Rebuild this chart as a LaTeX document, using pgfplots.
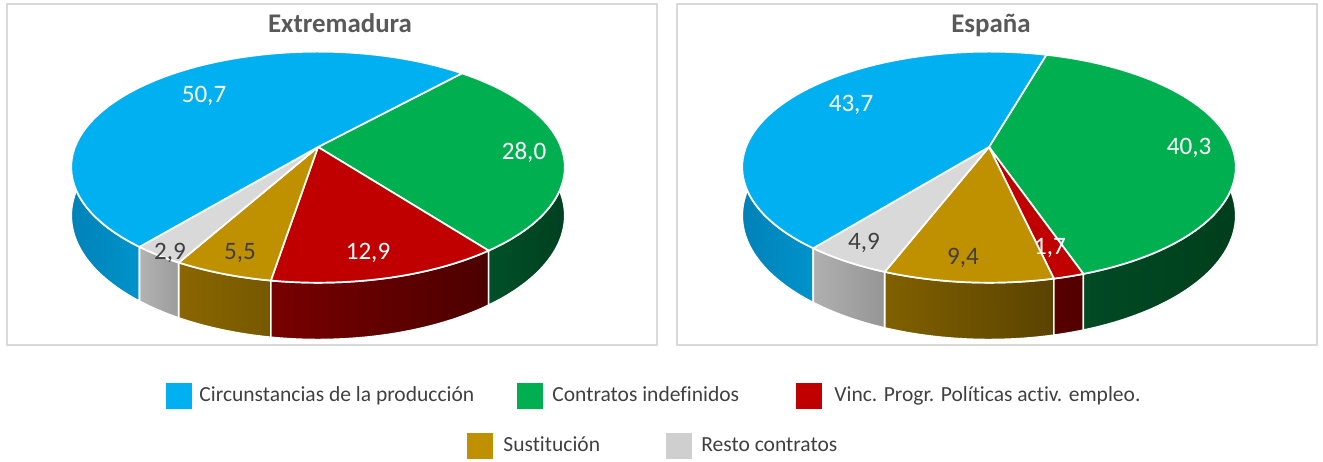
\documentclass[border=0pt]{standalone}
\usepackage{pgfplots}
\pgfplotsset{compat=1.18}
\usepackage{fontspec}
\setmainfont[Ligatures=NoCommon]{Carlito}
\definecolor{cBlue}{HTML}{00B0F0}
\definecolor{cGreen}{HTML}{00B050}
\definecolor{cRed}{HTML}{C00000}
\definecolor{cGold}{HTML}{BF9000}
\definecolor{cGray}{HTML}{D9D9D9}
\definecolor{cGrayLeg}{HTML}{CFCFCF}
\definecolor{cTitle}{HTML}{595959}
\definecolor{cLab}{HTML}{404040}
\definecolor{cBorder}{HTML}{D9D9D9}
% side colours
\definecolor{sBlueL}{HTML}{0082B8}\definecolor{sBlueR}{HTML}{0093CB}
\definecolor{sGrayLa}{HTML}{B3B3B3}\definecolor{sGrayRa}{HTML}{9C9C9C}
\definecolor{sGoldLa}{HTML}{8A6600}\definecolor{sGoldRa}{HTML}{765800}
\definecolor{sRedLa}{HTML}{780000}\definecolor{sRedRa}{HTML}{4C0000}
\definecolor{sGreenLa}{HTML}{005028}\definecolor{sGreenRa}{HTML}{004020}
\definecolor{sGrayLb}{HTML}{B0B0B0}\definecolor{sGrayRb}{HTML}{959595}
\definecolor{sGoldLb}{HTML}{806000}\definecolor{sGoldRb}{HTML}{5A4300}
\definecolor{sRedLb}{HTML}{5A0000}\definecolor{sRedRb}{HTML}{500000}
\definecolor{sGreenLb}{HTML}{004A24}\definecolor{sGreenRb}{HTML}{003E1C}
% geometry (pixels)
\def\Rx{243}\def\Ry{112}\def\Kp{0.1745}\def\Dp{47}
% data: Extremadura
\def\ExBlue{50.7}\def\ExGreen{28.0}\def\ExRed{12.9}\def\ExGold{5.5}\def\ExGray{2.9}
% data: Espana
\def\EsBlue{43.7}\def\EsGreen{40.3}\def\EsRed{1.7}\def\EsGold{9.4}\def\EsGray{4.9}
% boundary angles (clockwise from the blue/green boundary)
\pgfmathsetmacro\LA{48}
\pgfmathsetmacro\LB{\LA-3.6*\ExGreen}
\pgfmathsetmacro\LC{\LB-3.6*\ExRed}
\pgfmathsetmacro\LD{\LC-3.6*\ExGold}
\pgfmathsetmacro\LE{\LD-3.6*\ExGray}
\pgfmathsetmacro\LF{\LE-3.6*\ExBlue}
\pgfmathsetmacro\RA{74}
\pgfmathsetmacro\RB{\RA-3.6*\EsGreen}
\pgfmathsetmacro\RC{\RB-3.6*\EsRed}
\pgfmathsetmacro\RD{\RC-3.6*\EsGold}
\pgfmathsetmacro\RE{\RD-3.6*\EsGray}
\pgfmathsetmacro\RF{\RE-3.6*\EsBlue}
\newcommand\TopSlice[5]{\addplot[fill=#5, draw=white, line width=0.85pt, line join=round, domain=#4:#3, samples=70, variable=\t] ({#1+\Rx*cos(\t)/(1+\Kp*sin(\t))},{#2-\Ry*sin(\t)/(1+\Kp*sin(\t))}) -- (axis cs:#1,#2) -- cycle;}
\newcommand\SideSlice[6]{\addplot[left color=#5, right color=#6, draw=white, line width=0.85pt, line join=round, domain=0:81, samples=82, variable=\s] ({#1+\Rx*cos(ph(\s,#3,#4))/(1+\Kp*sin(ph(\s,#3,#4)))},{#2+(-\Ry*sin(ph(\s,#3,#4))+(\s>40.5)*\Dp)/(1+\Kp*sin(ph(\s,#3,#4)))}) -- cycle;}
\begin{document}
\begin{tikzpicture}
\begin{axis}[
  scale only axis, width=661.5bp, height=231bp,
  xmin=0, xmax=1323, ymin=0, ymax=462, y dir=reverse,
  hide axis, clip=false,
  declare function={ph(\s,\a,\b)=(\s<40.5)?(\a+(\b-\a)*\s/40):(\b+(\a-\b)*(\s-41)/40);}
]
\path (axis cs:0,0) rectangle (axis cs:1323,462);
% panel borders
\draw[cBorder, line width=0.75bp] (axis cs:7,4) rectangle (axis cs:657,345);
\draw[cBorder, line width=0.75bp] (axis cs:677,4) rectangle (axis cs:1317,345);
% titles
\node[anchor=base, font=\bfseries\fontsize{13.5}{16}\selectfont, text=cTitle] at (axis cs:340,33) {Extremadura};
\node[anchor=base, font=\bfseries\fontsize{13.5}{16}\selectfont, text=cTitle] at (axis cs:991,33) {España};
% ---- Extremadura: sides
\SideSlice{318}{147}{-180}{\LE}{sBlueL}{sBlueR}
\SideSlice{318}{147}{\LE}{\LD}{sGrayLa}{sGrayRa}
\SideSlice{318}{147}{\LD}{\LC}{sGoldLa}{sGoldRa}
\SideSlice{318}{147}{\LC}{\LB}{sRedLa}{sRedRa}
\SideSlice{318}{147}{\LB}{0}{sGreenLa}{sGreenRa}
% ---- Extremadura: tops
\TopSlice{318}{147}{\LA}{\LB}{cGreen}
\TopSlice{318}{147}{\LB}{\LC}{cRed}
\TopSlice{318}{147}{\LC}{\LD}{cGold}
\TopSlice{318}{147}{\LD}{\LE}{cGray}
\TopSlice{318}{147}{\LE}{\LF}{cBlue}
% ---- Espana: sides
\SideSlice{989}{147}{-180}{\RE}{sBlueL}{sBlueR}
\SideSlice{989}{147}{\RE}{\RD}{sGrayLb}{sGrayRb}
\SideSlice{989}{147}{\RD}{\RC}{sGoldLb}{sGoldRb}
\SideSlice{989}{147}{\RC}{\RB}{sRedLb}{sRedRb}
\SideSlice{989}{147}{\RB}{0}{sGreenLb}{sGreenRb}
% ---- Espana: tops
\TopSlice{989}{147}{\RA}{\RB}{cGreen}
\TopSlice{989}{147}{\RB}{\RC}{cRed}
\TopSlice{989}{147}{\RC}{\RD}{cGold}
\TopSlice{989}{147}{\RD}{\RE}{cGray}
\TopSlice{989}{147}{\RE}{\RF}{cBlue}
% ---- data labels
\node[font=\fontsize{12.6}{15}\selectfont, inner sep=0pt, text=white] at (axis cs:204,96) {50,7};
\node[font=\fontsize{12.6}{15}\selectfont, inner sep=0pt, text=white] at (axis cs:524,153) {28,0};
\node[font=\fontsize{12.6}{15}\selectfont, inner sep=0pt, text=white] at (axis cs:368,253) {12,9};
\node[font=\fontsize{12.6}{15}\selectfont, inner sep=0pt, text=cLab] at (axis cs:240,253) {5,5};
\node[font=\fontsize{12.6}{15}\selectfont, inner sep=0pt, text=cLab] at (axis cs:170,253) {2,9};
\node[font=\fontsize{12.6}{15}\selectfont, inner sep=0pt, text=white] at (axis cs:851,105) {43,7};
\node[font=\fontsize{12.6}{15}\selectfont, inner sep=0pt, text=white] at (axis cs:1189,148) {40,3};
\node[font=\fontsize{12.6}{15}\selectfont, inner sep=0pt, text=white] at (axis cs:1050,248) {1,7};
\node[font=\fontsize{12.6}{15}\selectfont, inner sep=0pt, text=cLab] at (axis cs:963,258) {9,4};
\node[font=\fontsize{12.6}{15}\selectfont, inner sep=0pt, text=cLab] at (axis cs:864,243) {4,9};
% ---- legend
\fill[cBlue] (axis cs:166,383) rectangle (axis cs:192,409);
\node[anchor=base west, font=\fontsize{10.8}{13}\selectfont, text=cLab, inner sep=0pt] at (axis cs:199,401) {Circunstancias de la producción};
\fill[cGreen] (axis cs:517,383) rectangle (axis cs:543,409);
\node[anchor=base west, font=\fontsize{10.8}{13}\selectfont, text=cLab, inner sep=0pt] at (axis cs:552,401) {Contratos indefinidos};
\fill[cRed] (axis cs:796,383) rectangle (axis cs:822,409);
\node[anchor=base west, font=\fontsize{10.8}{13}\selectfont, text=cLab, inner sep=0pt] at (axis cs:834,401) {Vinc. Progr. Políticas activ. empleo.};
\fill[cGold] (axis cs:467,433) rectangle (axis cs:493,459);
\node[anchor=base west, font=\fontsize{10.8}{13}\selectfont, text=cLab, inner sep=0pt] at (axis cs:503,451) {Sustitución};
\fill[cGrayLeg] (axis cs:666,433) rectangle (axis cs:692,459);
\node[anchor=base west, font=\fontsize{10.8}{13}\selectfont, text=cLab, inner sep=0pt] at (axis cs:701,451) {Resto contratos};
\end{axis}
\end{tikzpicture}
\end{document}
